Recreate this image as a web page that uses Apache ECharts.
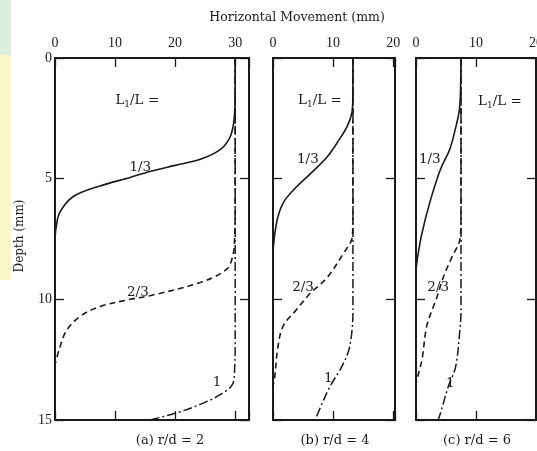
<!DOCTYPE html>
<html><head><meta charset="utf-8">
<script src="https://cdn.jsdelivr.net/npm/echarts@6/dist/echarts.min.js"></script>
<style>html,body{margin:0;padding:0;background:#fff;overflow:hidden}#c{width:537px;height:451px}</style>
</head><body><div id="c"></div>
<script>
// ---- data ----
const xTitle = 'Horizontal Movement (mm)';
const yTitle = 'Depth (mm)';
const captions = ['(a) r/d = 2', '(b) r/d = 4', '(c) r/d = 6'];
const depthTicks = [0, 5, 10, 15];
const xTicksA = [0, 10, 20, 30];
const xTicksB = [0, 10, 20];
const xTicksC = [0, 10, 20];
const xMaxes = [32.3, 20.3, 20];

// panel (a) r/d = 2 : [movement, depth]
const solidA = [[30,0],[30,1.5],[29.9,2.3],[29.6,2.9],[29,3.35],[27.5,3.8],[24.2,4.2],[20,4.45],[15.8,4.7],[12.5,4.95],[7.5,5.3],[3,5.75],[0.8,6.4],[0.2,7.0],[0,7.5]];
const dashedA = [[30,0],[30,6],[29.9,7.5],[29.6,8.2],[28.6,8.75],[24.2,9.3],[15.8,9.85],[12.5,10.0],[7.5,10.3],[4.2,10.7],[1.9,11.3],[0.8,12.0],[0,12.7]];
const dashDotA = [[30,0],[30,11.5],[29.9,12.9],[29.6,13.5],[27.5,13.95],[24.2,14.35],[20.3,14.7],[15.8,15]];
// panel (b) r/d = 4
const solidB = [[13.3,0],[13.3,1.5],[13.1,2.3],[12.3,2.85],[10.7,3.5],[9,4.1],[6.2,4.8],[3.4,5.47],[1.7,6.0],[0.8,6.6],[0.3,7.3],[0,8]];
const dashedB = [[13.3,0],[13.3,6.5],[13.2,7.4],[11.7,8.1],[9,9.1],[6.2,9.75],[4,10.4],[1.7,11.1],[0.8,12],[0.3,13.2],[0,13.6]];
const dashDotB = [[13.3,0],[13.3,10.5],[13.1,11.4],[12.5,12.2],[11.2,12.9],[9.5,13.6],[8.2,14.3],[7,15]];
// panel (c) r/d = 6
const solidC = [[7.5,0],[7.4,1.5],[7.2,2.2],[6.5,3.0],[5.6,3.8],[4.1,4.6],[2.4,5.9],[1,7.25],[0.3,8.2],[0,8.8]];
const dashedC = [[7.5,0],[7.5,6.5],[7.4,7.4],[5.8,8.35],[4.6,9.05],[3.5,9.9],[2.9,10.3],[1.8,11.1],[1.0,12.5],[0.5,13.0],[0,13.5]];
const dashDotC = [[7.5,0],[7.5,10.5],[7.3,11.3],[6.6,12.8],[5.4,13.6],[4.1,14.7],[3.7,15]];

// curve annotations: [movement, depth, text]
const notesA = [[13.7,1.75,'L{s|1}/L ='],[14.2,4.55,'1/3'],[13.8,9.7,'2/3'],[27,13.45,'1']];
const notesB = [[7.8,1.75,'L{s|1}/L ='],[5.8,4.2,'1/3'],[5,9.5,'2/3'],[9.2,13.3,'1']];
const notesC = [[14,1.8,'L{s|1}/L ='],[2.3,4.2,'1/3'],[3.7,9.5,'2/3'],[5.7,13.5,'1']];

// ---- chart ----
const TICKFONT = 'Liberation Serif';
const FONT = 'DejaVu Serif';
const INK = '#1a1a1a';
const panels = [
  {ticks: xTicksA, curves: [solidA, dashedA, dashDotA], notes: notesA, grid: {left: 55, top: 58, width: 194, height: 362}},
  {ticks: xTicksB, curves: [solidB, dashedB, dashDotB], notes: notesB, grid: {left: 273, top: 58, width: 122, height: 362}},
  {ticks: xTicksC, curves: [solidC, dashedC, dashDotC], notes: notesC, grid: {left: 416, top: 58, width: 120, height: 362}}
];
const styles = [
  {type: 'solid', width: 1.6},
  {type: [6, 4], width: 1.6},
  {type: [9, 3, 2, 3], width: 1.5}
];

const grid = [], xAxis = [], yAxis = [], series = [];
panels.forEach((p, i) => {
  grid.push(Object.assign({show: true, borderColor: INK, borderWidth: 2, backgroundColor: 'transparent',
    containLabel: false, outerBoundsMode: 'none'}, p.grid));
  const tick = {show: true, inside: true, length: 9, lineStyle: {color: INK, width: 1.3}};
  const xBase = {type: 'value', gridIndex: i, min: 0, max: xMaxes[i], interval: 10,
    axisLine: {show: false, onZero: false}, splitLine: {show: false}, axisTick: tick};
  xAxis.push(Object.assign({}, xBase, {position: 'top',
    axisLabel: {show: true, margin: 8, color: INK, fontFamily: TICKFONT, fontSize: 14,
      formatter: v => p.ticks.includes(v) ? String(v) : ''}}));
  xAxis.push(Object.assign({}, xBase, {position: 'bottom', axisLabel: {show: false}}));
  const yBase = {type: 'value', gridIndex: i, min: 0, max: 15, interval: 5, inverse: true,
    axisLine: {show: false, onZero: false}, splitLine: {show: false}, axisTick: tick};
  yAxis.push(Object.assign({}, yBase, {position: 'left',
    axisLabel: {show: i === 0, margin: 3, color: INK, fontFamily: TICKFONT, fontSize: 14,
      formatter: v => depthTicks.includes(v) ? String(v) : ''}}));
  yAxis.push(Object.assign({}, yBase, {position: 'right', axisLabel: {show: false}}));
  p.curves.forEach((c, k) => {
    series.push({type: 'line', xAxisIndex: 2 * i, yAxisIndex: 2 * i, data: c, smooth: 0.35,
      showSymbol: false, symbol: 'none', silent: true,
      lineStyle: {color: INK, type: styles[k].type, width: styles[k].width}});
  });
  series.push({type: 'scatter', xAxisIndex: 2 * i, yAxisIndex: 2 * i, data: p.notes, symbolSize: 0, silent: true,
    itemStyle: {color: INK},
    label: {show: true, position: 'inside', formatter: q => q.data[2], color: INK, fontFamily: FONT, fontSize: 13.5,
      textBorderWidth: 0, textBorderColor: 'transparent', opacity: 1,
      rich: {s: {fontFamily: FONT, fontSize: 9, color: INK, textBorderWidth: 0, padding: [8, 0, 0, 0]}}}});
});

const chart = echarts.init(document.getElementById('c'), null, {renderer: 'canvas'});
chart.setOption({
  animation: false,
  backgroundColor: '#fff',
  grid, xAxis, yAxis, series,
  graphic: [
    {type: 'rect', shape: {x: 0, y: 0, width: 11, height: 55}, style: {fill: '#dcefdc'}, z: -1},
    {type: 'rect', shape: {x: 0, y: 55, width: 11, height: 225}, style: {fill: '#fbf6c9'}, z: -1},
    {type: 'text', x: 297, y: 18, style: {text: xTitle, fontFamily: FONT, fontSize: 12.5, fill: INK, textAlign: 'center', textVerticalAlign: 'middle'}},
    {type: 'text', x: 20, y: 236, rotation: Math.PI / 2, style: {text: yTitle, fontFamily: FONT, fontSize: 12, fill: INK, textAlign: 'center', textVerticalAlign: 'middle'}},
    {type: 'text', x: 170, y: 441, style: {text: captions[0], fontFamily: FONT, fontSize: 13, fill: INK, textAlign: 'center', textVerticalAlign: 'middle'}},
    {type: 'text', x: 335, y: 441, style: {text: captions[1], fontFamily: FONT, fontSize: 13, fill: INK, textAlign: 'center', textVerticalAlign: 'middle'}},
    {type: 'text', x: 477, y: 441, style: {text: captions[2], fontFamily: FONT, fontSize: 13, fill: INK, textAlign: 'center', textVerticalAlign: 'middle'}}
  ]
});
</script></body></html>
